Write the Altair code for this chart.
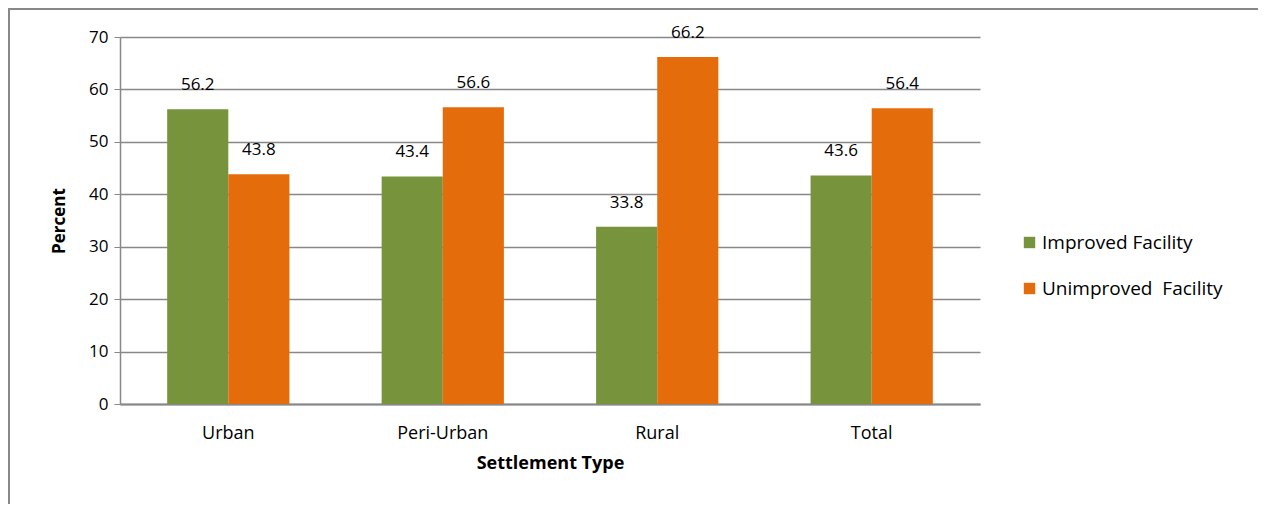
import altair as alt
import pandas as pd

categories = ["Urban", "Peri-Urban", "Rural", "Total"]
improved = [56.2, 43.4, 33.8, 43.6]
unimproved = [43.8, 56.6, 66.2, 56.4]
series_names = ["Improved Facility", "Unimproved\u00a0 Facility"]
colors = ["#77933C", "#E46C0A"]

rows = []
for c, a, b in zip(categories, improved, unimproved):
    rows.append({"Settlement": c, "Series": series_names[0], "Value": a, "Label": f"{a:.1f}"})
    rows.append({"Settlement": c, "Series": series_names[1], "Value": b, "Label": f"{b:.1f}"})
df = pd.DataFrame(rows)

FONT = "Open Sans"
W, H = 860, 367

x_enc = alt.X("Settlement:N", sort=categories, title="Settlement Type",
              scale=alt.Scale(paddingInner=0.43, paddingOuter=0.22),
              axis=alt.Axis(labelAngle=0, ticks=False, labelPadding=20, titlePadding=12,
                            labelFontSize=18, titleFontSize=18, titleFontWeight="bold",
                            labelFont=FONT, titleFont=FONT, labelColor="#000", titleColor="#000",
                            domainColor="#888888", domainWidth=2, grid=False))
y_enc = alt.Y("Value:Q", title="Percent",
              scale=alt.Scale(domain=[0, 70], nice=False),
              axis=alt.Axis(values=[0, 10, 20, 30, 40, 50, 60, 70], tickSize=6, tickColor="#888888",
                            domainColor="#888888", domainWidth=1.5, gridColor="#888888", gridWidth=1.5,
                            labelFontSize=17, titleFontSize=17, titleFontWeight="bold",
                            labelFont=FONT, titleFont=FONT, labelColor="#000", titleColor="#000",
                            labelPadding=6, titlePadding=20))
off = alt.XOffset("Series:N", sort=series_names, scale=alt.Scale(paddingInner=0))

bars = alt.Chart(df).mark_bar().encode(
    x=x_enc, y=y_enc, xOffset=off,
    color=alt.Color("Series:N", sort=series_names,
                    scale=alt.Scale(domain=series_names, range=colors),
                    legend=alt.Legend(title=None, orient="none", legendX=900, legendY=196,
                                      symbolType="square", symbolSize=130, rowPadding=26,
                                      labelFontSize=19, labelFont=FONT, labelColor="#000",
                                      symbolStrokeWidth=0, labelLimit=300, labelOffset=3))
)

labels = alt.Chart(df).mark_text(baseline="bottom", dy=-15, fontSize=17, font=FONT, color="#000").encode(
    x=alt.X("Settlement:N", sort=categories), y="Value:Q", xOffset=off, text="Label:N"
)

border_top = alt.Chart(df).mark_rule(color="#888888", strokeWidth=2).encode(
    x=alt.value(-115), x2=alt.value(1160), y=alt.value(-28)
)
border_left = alt.Chart(df).mark_rule(color="#888888", strokeWidth=2).encode(
    x=alt.value(-111), y=alt.value(-28), y2=alt.value(480)
)

chart = alt.layer(bars, labels, border_top, border_left).properties(
    width=W, height=H,
    autosize=alt.AutoSizeParams(type="none"),
    padding={"left": 112, "top": 29, "right": 278, "bottom": 100},
).configure_view(stroke=None).configure_axisY(domain=True)

chart.save("out.html", embed_options={"renderer": "svg", "actions": False})
